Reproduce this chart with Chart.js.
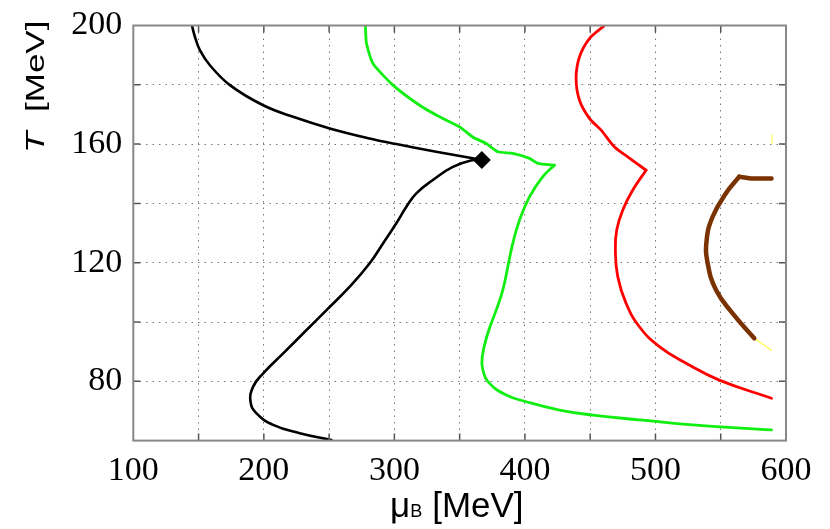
<!DOCTYPE html>
<html>
<head>
<meta charset="utf-8">
<script src="https://cdn.jsdelivr.net/npm/chart.js@4.4.1/dist/chart.umd.min.js"></script>
<style>
  body { margin: 0; background: #fff; }
</style>
</head>
<body>
<canvas id="phaseChart" width="830" height="529"></canvas>
<script>
// Curves: mu_B [MeV] and T [MeV]
// (branches split at the cusps so the corners stay sharp)
const blackUpperMu = [144.9, 147.2, 151, 158.7, 174, 199.5, 222.4, 250.5, 281, 301.5, 332, 360, 367];
const blackUpperT  = [200, 196.2, 191.7, 186.6, 179.9, 173.1, 169.2, 165.3, 161.9, 160, 157.4, 155.2, 154.6];
const blackLowerMu = [367, 360.1, 344.8, 329.5, 316.8, 309.2, 301.5, 291.3, 281.1, 265.8, 248, 232.7, 214.8, 199.5, 191.8, 189.8, 194.4, 207.1, 227.5, 251.8];
const blackLowerT  = [154.6, 154.6, 152.3, 147.9, 143.4, 138.9, 133.3, 126.5, 119.8, 111.9, 104, 97.3, 89.4, 82.7, 78.2, 73.1, 69.2, 65.3, 62.5, 60.2];

const greenUpperMu = [277.8, 278.6, 283.6, 298.9, 319.3, 334.6, 350, 360.2, 370.4, 379.3, 390.7, 403.5, 409.9, 422.6];
const greenUpperT  = [200, 194, 187.2, 179.9, 173.1, 169.2, 165.8, 162.3, 160.2, 157.4, 156.9, 155.2, 153.5, 152.9];
const greenLowerMu = [422.6, 413.7, 403.5, 395.9, 390.7, 386.9, 383.1, 378, 371.6, 367.3, 367.8, 372.9, 385.7, 401, 426.5, 452, 490.2, 528.5, 588.9];
const greenLowerT  = [152.9, 149, 142.2, 134.4, 126.5, 118.6, 110.8, 104, 96.2, 88.3, 83.8, 79.3, 75.4, 73.1, 70.3, 68.6, 66.9, 65.3, 63.6];

const redUpperMu = [460.4, 449.4, 441.8, 439.2, 441.8, 449.4, 458.4, 468.5, 478.7, 492.8];
const redUpperT  = [199.8, 195.6, 189.4, 182.2, 174.8, 168.7, 164.7, 159.1, 155.7, 151.2];
const redLowerMu = [492.8, 482.6, 474.9, 470.3, 469.3, 471.1, 477.5, 487.7, 503, 523.4, 548.9, 588.9];
const redLowerT  = [151.2, 144.5, 137.7, 131, 124.3, 115.3, 106.3, 98.4, 91.7, 86.1, 80.4, 74.3];

const brownTopMu = [588.9, 574.4, 564.2];
const brownTopT  = [148.4, 148.4, 149];
const brownMu = [564.2, 554, 543.8, 539.2, 540, 546.4, 559.1, 575.7];
const brownT  = [149, 143.4, 135.5, 127.6, 119.8, 110.8, 102.9, 94.5];

const yellowLowMu = [575.7, 588.9];
const yellowLowT  = [94.5, 90.5];
const yellowTopMu = [589.2, 589.2];
const yellowTopT  = [163, 160.3];

// critical end point
const cepMu = [367];
const cepT  = [154.6];

const xTickLabels = [100, 200, 300, 400, 500, 600];
const yTickLabels = [80, 120, 160, 200];

const pts = (mu, t) => mu.map((m, i) => ({ x: m, y: t[i] }));

const curve = (mu, t, color, width, tension) => ({
    data: pts(mu, t),
    showLine: true,
    borderColor: color,
    borderWidth: width,
    borderCapStyle: 'round',
    borderJoinStyle: 'round',
    pointRadius: 0,
    tension: tension,
    fill: false
});

// frame, inward ticks and axis titles (subscript B, italic T)
const framePlugin = {
    id: 'frame',
    afterDraw(chart) {
        const ctx = chart.ctx;
        const a = chart.chartArea;
        const xs = chart.scales.x, ys = chart.scales.y;
        ctx.save();
        ctx.strokeStyle = '#555';
        ctx.lineWidth = 1.5;
        ctx.beginPath();
        for (let v = 150; v < 600; v += 50) {
            const px = xs.getPixelForValue(v);
            ctx.moveTo(px, a.bottom); ctx.lineTo(px, a.bottom - 7);
            ctx.moveTo(px, a.top); ctx.lineTo(px, a.top + 7);
        }
        for (let v = 80; v < 200; v += 20) {
            const py = ys.getPixelForValue(v);
            ctx.moveTo(a.left, py); ctx.lineTo(a.left + 7, py);
            ctx.moveTo(a.right, py); ctx.lineTo(a.right - 7, py);
        }
        ctx.stroke();
        ctx.strokeStyle = '#888';
        ctx.lineWidth = 2;
        ctx.strokeRect(a.left, a.top, a.right - a.left, a.bottom - a.top);

        // x title
        ctx.fillStyle = '#000';
        ctx.textBaseline = 'alphabetic';
        ctx.textAlign = 'left';
        let x = 390;
        const base = 517;
        ctx.font = '35px "Liberation Sans"';
        ctx.fillText('\u03bc', x, base);
        x += ctx.measureText('\u03bc').width;
        ctx.font = '18px "Liberation Sans"';
        ctx.fillText('B', x, base);
        x += ctx.measureText('B').width + 10;
        ctx.font = '35px "Liberation Sans"';
        ctx.fillText('[MeV]', x, base);

        // y title, rotated and a bit narrower
        ctx.translate(44, 153);
        ctx.rotate(-Math.PI / 2);
        ctx.scale(1, 0.72);
        ctx.font = 'italic 35px "Liberation Sans"';
        ctx.fillText('T', 0, 0);
        ctx.font = '35px "Liberation Sans"';
        ctx.fillText('[MeV]', 41, 0);
        ctx.restore();
    }
};

new Chart(document.getElementById('phaseChart'), {
    type: 'scatter',
    data: {
        datasets: [
            curve(blackUpperMu, blackUpperT, '#000', 2.6, 0.4),
            curve(blackLowerMu, blackLowerT, '#000', 2.6, 0.45),
            curve(greenUpperMu, greenUpperT, '#11ee11', 2.8, 0.2),
            curve(greenLowerMu, greenLowerT, '#11ee11', 2.8, 0.45),
            curve(redUpperMu, redUpperT, '#ff0000', 2.8, 0.3),
            curve(redLowerMu, redLowerT, '#ff0000', 2.8, 0.45),
            curve(brownTopMu, brownTopT, '#7a3300', 4.5, 0.2),
            curve(brownMu, brownT, '#7a3300', 4.5, 0.45),
            curve(yellowLowMu, yellowLowT, '#ffff44', 1.2, 0),
            curve(yellowTopMu, yellowTopT, '#ffff44', 1.2, 0),
            {
                data: pts(cepMu, cepT),
                pointStyle: 'rectRot',
                pointRadius: 9,
                backgroundColor: '#000',
                borderColor: '#000',
                borderWidth: 0
            }
        ]
    },
    options: {
        responsive: false,
        animation: false,
        layout: { padding: { top: 25.5, right: 44, left: 0, bottom: 0 } },
        plugins: {
            legend: { display: false },
            tooltip: { enabled: false }
        },
        scales: {
            x: {
                type: 'linear',
                min: 100,
                max: 600,
                afterFit: (s) => { s.height = 88.4; s.paddingLeft = 0; s.paddingRight = 0; },
                grid: { color: '#777', lineWidth: 1, drawTicks: false },
                border: { display: false, dash: [1.5, 5] },
                ticks: {
                    stepSize: 50,
                    autoSkip: false,
                    maxRotation: 0,
                    padding: 10,
                    color: '#000',
                    font: { family: '"Liberation Serif"', size: 34 },
                    callback: (v) => xTickLabels.includes(v) ? v : ''
                }
            },
            y: {
                type: 'linear',
                min: 60,
                max: 200,
                afterFit: (s) => { s.width = 133.3; s.paddingTop = 0; s.paddingBottom = 0; },
                grid: { color: '#777', lineWidth: 1, drawTicks: false },
                border: { display: false, dash: [1.5, 5] },
                ticks: {
                    stepSize: 20,
                    autoSkip: false,
                    padding: 11,
                    color: '#000',
                    font: { family: '"Liberation Serif"', size: 34 },
                    callback: (v) => yTickLabels.includes(v) ? v : ''
                }
            }
        }
    },
    plugins: [framePlugin]
});
</script>
</body>
</html>
